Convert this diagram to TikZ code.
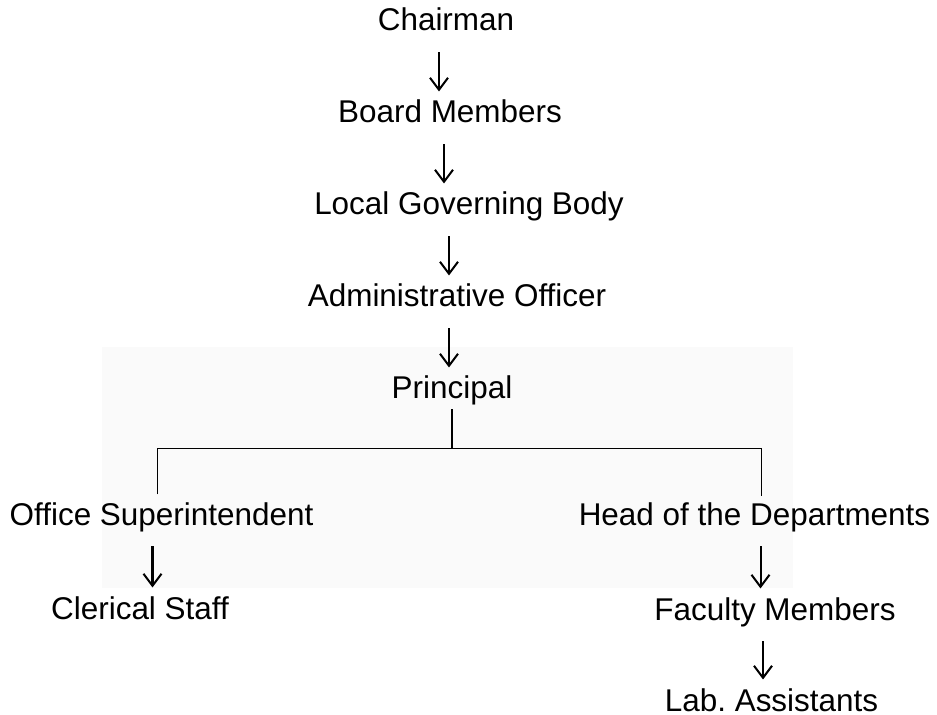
\documentclass[tikz,border=0pt]{standalone}
\usepackage{fontspec}
\setmainfont{Liberation Sans}
\usetikzlibrary{arrows.meta}

\begin{document}
\begin{tikzpicture}[
    post/.style={anchor=base, inner sep=0pt, text height=12.9pt, text depth=3.76pt,
      font=\fontsize{17.9}{21}\selectfont},
    down/.style={line width=1.15pt, -{Straight Barb[length=2.4mm,width=3.6mm]},
      shorten <=0.29cm, shorten >=0.17cm},
    branch/.style={line width=1pt}
  ]
    \useasboundingbox (0,0) rectangle (18.74,-14.30);
    % 浅灰底色
    \fill[black!2] (2.04,-6.94) rectangle (15.86,-11.76);
    % 各级职位
    \node[post] (chair) at (8.92,-0.62)  {Chairman};
    \node[post] (board) at (9.00,-2.46)  {Board Members};
    \node[post] (lgb)   at (9.38,-4.30)  {Local Governing Body};
    \node[post] (ao)    at (9.14,-6.14)  {Administrative Officer};
    \node[post] (prin)  at (9.04,-7.98)  {Principal};
    \node[post] (os)    at (3.23,-10.50) {Office Superintendent};
    \node[post] (hod)   at (15.09,-10.50) {Head of the Departments};
    \node[post] (cler)  at (2.80,-12.38) {Clerical Staff};
    \node[post] (fac)   at (15.50,-12.40) {Faculty Members};
    \node[post, text depth=0pt] (lab) at (15.43,-14.22) {Lab.\ Assistants};
    % 竖向箭头
    \foreach \up/\dn/\dx in {chair/board/-0.14, board/lgb/-0.12, lgb/ao/-0.40,
        ao/prin/-0.16, os/cler/-0.18, hod/fac/0.12, fac/lab/-0.24} {   % 上级/下级/横移
      \draw[down] ([xshift=\dx cm]\up.south) -- ([xshift=\dx cm]\up.south |- \dn.north);
    }
    % 分支连线
    \coordinate (split) at ([yshift=-0.85cm]prin.south);
    \draw[branch, shorten <=0.07cm] (prin.south) -- (split);
    \draw[branch, shorten <=0.15cm, shorten >=0.12cm]
      ([xshift=-0.08cm]os.north) |- (split) -| ([xshift=0.14cm]hod.north);
\end{tikzpicture}
\end{document}
